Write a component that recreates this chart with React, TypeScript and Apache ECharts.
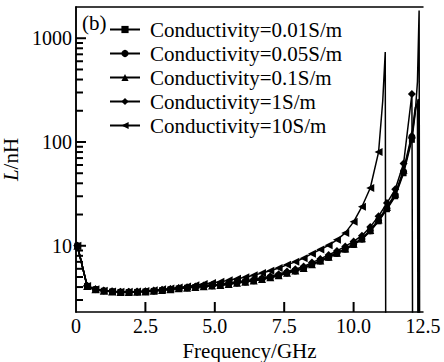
import React, { useEffect, useRef } from "react";
import * as echarts from "echarts";

const FONT = "'Liberation Serif', 'Times New Roman', serif";

const legendNames = [
  "Conductivity=0.01S/m",
  "Conductivity=0.05S/m",
  "Conductivity=0.1S/m",
  "Conductivity=1S/m",
  "Conductivity=10S/m",
];

const freqs = [0.05, 0.4, 0.7, 1.0, 1.3, 1.6, 1.9, 2.2, 2.5, 2.8, 3.1, 3.4, 3.7, 4.0, 4.3, 4.6, 4.9, 5.2, 5.5, 5.8, 6.1, 6.4, 6.7, 7.0, 7.3, 7.6, 7.9, 8.2, 8.5, 8.8, 9.1, 9.4, 9.7, 10.0, 10.3, 10.6, 10.9, 11.2, 11.5, 11.8, 12.1];

const s001 = [10, 4.1, 3.8, 3.68, 3.62, 3.59, 3.58, 3.59, 3.62, 3.67, 3.73, 3.8, 3.88, 3.94, 4.0, 4.06, 4.11, 4.17, 4.26, 4.37, 4.48, 4.6, 4.74, 4.92, 5.15, 5.45, 5.7, 6.05, 6.55, 7.1, 7.7, 8.4, 9.2, 10.2, 11.5, 13.8, 17.2, 22.5, 30, 50, 105];
const s005 = [10, 4.1, 3.8, 3.68, 3.62, 3.59, 3.58, 3.59, 3.62, 3.67, 3.73, 3.8, 3.88, 3.94, 4.0, 4.06, 4.12, 4.18, 4.27, 4.38, 4.49, 4.61, 4.76, 4.94, 5.17, 5.47, 5.73, 6.08, 6.6, 7.15, 7.76, 8.47, 9.3, 10.3, 11.65, 14.0, 17.5, 23, 30.8, 52, 112];
const s01 = [10, 4.1, 3.8, 3.68, 3.62, 3.59, 3.58, 3.6, 3.63, 3.68, 3.74, 3.81, 3.89, 3.95, 4.01, 4.07, 4.13, 4.19, 4.28, 4.4, 4.51, 4.63, 4.78, 4.97, 5.2, 5.5, 5.77, 6.12, 6.65, 7.2, 7.83, 8.55, 9.4, 10.45, 11.8, 14.2, 17.9, 23.6, 31.8, 54, 118];
const s1 = [10, 4.12, 3.82, 3.7, 3.64, 3.61, 3.6, 3.62, 3.65, 3.7, 3.77, 3.84, 3.92, 3.99, 4.06, 4.13, 4.19, 4.26, 4.36, 4.48, 4.6, 4.73, 4.89, 5.09, 5.33, 5.65, 5.94, 6.32, 6.88, 7.47, 8.14, 8.92, 9.85, 11.0, 12.5, 15.2, 19.3, 25.8, 35, 62, 290];
const s10 = [10, 4.1, 3.8, 3.69, 3.63, 3.61, 3.61, 3.63, 3.67, 3.73, 3.8, 3.88, 3.97, 4.06, 4.16, 4.27, 4.38, 4.5, 4.64, 4.8, 4.98, 5.2, 5.45, 5.75, 6.1, 6.55, 7.0, 7.6, 8.4, 9.2, 10.1, 11.4, 13.3, 17, 23.8, 36, 80];

// resonance tails: [frequency, L]; the last value lies below the axis minimum (drop to negative L)
const tail001 = [[12.22, 190], [12.3, 380], [12.36, 1850], [12.38, 0.5]];
const tail005 = [[12.22, 200], [12.33, 260], [12.35, 0.5]];
const tail01 = [[12.22, 215], [12.3, 235], [12.32, 0.5]];
const tail1 = [[12.13, 0.5]];
const tail10 = [[11.05, 250], [11.14, 735], [11.16, 0.5]];

const xTicks = [0, 2.5, 5, 7.5, 10, 12.5];
const xInnerTicks = [2.5, 5, 7.5, 10];
const yRange = [2.3, 2000];
const yMajorTicks = [10, 100, 1000];
const yMinorTicks = [3, 4, 5, 6, 7, 8, 9, 20, 30, 40, 50, 60, 70, 80, 90, 200, 300, 400, 500, 600, 700, 800, 900];

function build(values: number[], tail: number[][]) {
  const main = values.map((v, i) => ({ value: [freqs[i], v] }));
  const t = tail.map((p) => ({ value: p, symbol: "none" }));
  return [...main, ...t];
}

const seriesDefs = [
  { name: legendNames[0], values: s001, tail: tail001, symbol: "rect", size: 6 },
  { name: legendNames[1], values: s005, tail: tail005, symbol: "circle", size: 7 },
  { name: legendNames[2], values: s01, tail: tail01, symbol: "triangle", size: 8 },
  { name: legendNames[3], values: s1, tail: tail1, symbol: "diamond", size: 8 },
  { name: legendNames[4], values: s10, tail: tail10, symbol: "path://M0,5 L10,0 L10,10 Z", size: 8 },
];

const INK = "#000000";
const AXIS_LINE = { show: true, lineStyle: { color: INK, width: 1.5 } };

function tickSeries(name: string, data: number[][], horizontal: boolean, len: number) {
  return {
    type: "custom",
    name,
    silent: true,
    z: 30,
    clip: false,
    encode: { x: 0, y: 1 },
    data,
    renderItem: (_p: any, api: any) => {
      const pt = api.coord([api.value(0), api.value(1)]);
      const shape = horizontal
        ? { x: pt[0], y: pt[1] - 1, width: len, height: 2 }
        : { x: pt[0] - 1, y: pt[1] - len, width: 2, height: len };
      return { type: "rect", shape, style: { fill: INK } };
    },
  };
}

export default function App() {
  const ref = useRef<HTMLDivElement>(null);
  useEffect(() => {
    if (!ref.current) return;
    const chart = echarts.init(ref.current, null, { renderer: "svg" });
    const lineSeries = seriesDefs.map((d) => ({
      name: d.name,
      type: "line",
      data: build(d.values, d.tail),
      symbol: d.symbol,
      symbolSize: d.size,
      showSymbol: true,
      clip: true,
      color: INK,
      itemStyle: { color: INK },
      lineStyle: { color: INK, width: 1.5 },
    }));
    chart.setOption({
      animation: false,
      backgroundColor: "#fff",
      title: {
        text: "(b)",
        left: 82,
        top: 12,
        padding: 0,
        textStyle: { fontFamily: FONT, fontSize: 21, fontWeight: "normal", color: INK },
      },
      legend: {
        data: legendNames,
        orient: "vertical",
        left: 109,
        top: 19,
        padding: 0,
        itemWidth: 30,
        itemHeight: 9,
        itemGap: 3,
        textStyle: { fontFamily: FONT, fontSize: 21, color: INK, padding: [0, 0, 0, 5] },
        inactiveColor: INK,
      },
      grid: {
        left: 76,
        right: 21,
        top: 7,
        bottom: 50,
        containLabel: false,
        outerBoundsMode: "none",
        show: false,
      },
      xAxis: [
        {
          type: "value",
          min: xTicks[0],
          max: xTicks[xTicks.length - 1],
          interval: 2.5,
          name: "Frequency/GHz",
          nameLocation: "middle",
          nameGap: 22,
          nameTextStyle: { fontFamily: FONT, fontSize: 21, color: INK },
          axisLine: AXIS_LINE,
          axisTick: { show: false },
          axisLabel: {
            fontFamily: FONT,
            fontSize: 20,
            color: INK,
            margin: 4,
            formatter: (v: number) => (v === 0 ? "0" : v.toFixed(1)),
          },
          splitLine: { show: false },
        },
        {
          type: "value",
          position: "top",
          min: xTicks[0],
          max: xTicks[xTicks.length - 1],
          axisLine: AXIS_LINE,
          axisTick: { show: false },
          axisLabel: { show: false },
          splitLine: { show: false },
        },
      ],
      yAxis: [
        {
          type: "log",
          logBase: 10,
          min: yRange[0],
          max: yRange[1],
          name: "{i|L}/nH",
          nameLocation: "middle",
          nameRotate: 90,
          nameGap: 44,
          nameTextStyle: {
            fontFamily: FONT,
            fontSize: 21,
            color: INK,
            rich: { i: { fontFamily: FONT, fontSize: 21, fontStyle: "italic", color: INK } },
          },
          axisLine: AXIS_LINE,
          axisTick: { show: false },
          axisLabel: {
            fontFamily: FONT,
            fontSize: 20,
            color: INK,
            margin: 4,
            showMinLabel: false,
            showMaxLabel: false,
            formatter: (v: number) => String(Math.round(v)),
          },
          splitLine: { show: false },
        },
        {
          type: "log",
          logBase: 10,
          position: "right",
          min: yRange[0],
          max: yRange[1],
          axisLine: AXIS_LINE,
          axisTick: { show: false },
          axisLabel: { show: false },
          splitLine: { show: false },
        },
      ],
      series: [
        ...lineSeries,
        tickSeries("xMajorTicks", xInnerTicks.map((x) => [x, yRange[0]]), false, 10),
        tickSeries("yMajorTicks", yMajorTicks.map((y) => [xTicks[0], y]), true, 10),
        tickSeries("yMinorTicks", yMinorTicks.map((y) => [xTicks[0], y]), true, 7),
      ],
    });
    return () => chart.dispose();
  }, []);
  return <div ref={ref} style={{ position: "fixed", left: 0, top: 0, width: 444, height: 362 }} />;
}
